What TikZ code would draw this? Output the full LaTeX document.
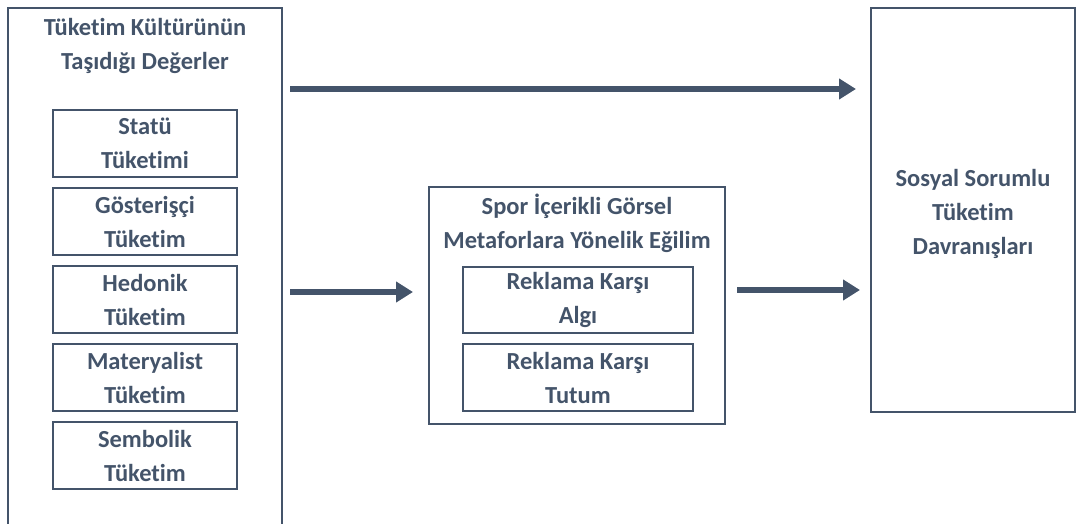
\documentclass[tikz,border=0pt]{standalone}
\usepackage{fontspec}
\setmainfont{Carlito}[Ligatures=NoCommon]
\usepackage{tikz}
\usetikzlibrary{arrows.meta,positioning}
\definecolor{slate}{HTML}{44546A}
\tikzset{
  >={Triangle[length=17pt,width=20pt]},
  frame/.style={draw=slate,line width=2.6pt,inner sep=0pt,outer sep=0pt,anchor=north west},
  subbox/.style={draw=slate,line width=2.6pt,inner sep=0pt,outer sep=0pt,anchor=north west,
    minimum width=184pt,minimum height=67pt,align=center},
  heading/.style={align=center},
  flow/.style={->,line width=6.5pt,color=slate},
}
\begin{document}
\begin{tikzpicture}[x=1pt,y=-1pt,text=slate,font=\bfseries\fontsize{24.5}{34}\selectfont]
  \useasboundingbox (0,0) rectangle (1077,524);
  \clip (0,0) rectangle (1077,524);
  \node[frame,minimum width=274pt,minimum height=540pt] (values) at (8,8) {};
  \node[heading] (valuestitle) at (145,46) {Tüketim Kültürünün\\Taşıdığı Değerler};
  \node[subbox] (status) at (53,110) {Statü\\Tüketimi};
  \node[subbox,below=11pt of status] (conspic) {Gösterişçi\\Tüketim};
  \node[subbox,below=11pt of conspic] (hedonic) {Hedonik\\Tüketim};
  \node[subbox,below=11pt of hedonic] (material) {Materyalist\\Tüketim};
  \node[subbox,below=11pt of material] (symbolic) {Sembolik\\Tüketim};

  \node[frame,minimum width=296pt,minimum height=237pt] (tendency) at (429,187) {};
  \node[heading] (tendencytitle) at (577,223) {Spor İçerikli Görsel\\Metaforlara Yönelik Eğilim};
  \node[subbox,minimum width=230pt,minimum height=66pt] (perception) at (463,267) {Reklama Karşı\\Algı};
  \node[subbox,minimum width=230pt,below=11pt of perception] (attitude) {Reklama Karşı\\Tutum};

  \node[frame,minimum width=204pt,minimum height=404pt] (behaviour) at (871,8) {};
  \node[heading,yshift=-4pt] (behaviourtitle) at (behaviour.center) {Sosyal Sorumlu\\Tüketim\\Davranışları};

  \draw[flow,shorten <=8pt,shorten >=15pt] (values.east |- 0,89) -- (behaviour.west |- 0,89);
  \draw[flow,shorten <=8pt,shorten >=16pt] (values.east |- 0,292) -- (tendency.west |- 0,292);
  \draw[flow,shorten <=12pt,shorten >=11pt] (tendency.east |- 0,290) -- (behaviour.west |- 0,290);
\end{tikzpicture}
\end{document}
